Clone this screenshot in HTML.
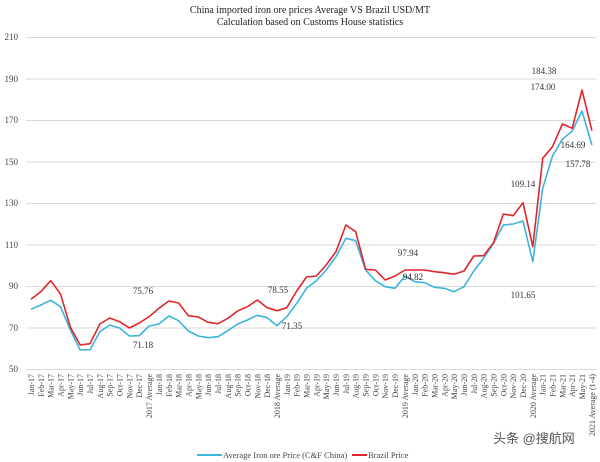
<!DOCTYPE html>
<html><head><meta charset="utf-8"><style>
html,body{margin:0;padding:0;background:#fff;}
svg{display:block;font-family:"Liberation Serif",serif;}
</style></head><body>
<svg width="600" height="462" viewBox="0 0 600 462" xmlns="http://www.w3.org/2000/svg">
<rect width="600" height="462" fill="#fff"/>
<text x="310" y="13" font-size="10" text-anchor="middle" fill="#222">China imported iron ore prices Average VS Brazil USD/MT</text>
<text x="310" y="25" font-size="10" text-anchor="middle" fill="#222">Calculation based on Customs House statistics</text>
<g stroke="#d9d9d9" stroke-width="1">
<line x1="26" x2="596" y1="37.5" y2="37.5"/><line x1="26" x2="596" y1="79" y2="79"/>
<line x1="26" x2="596" y1="120.5" y2="120.5"/><line x1="26" x2="596" y1="162" y2="162"/>
<line x1="26" x2="596" y1="203.5" y2="203.5"/><line x1="26" x2="596" y1="245" y2="245"/>
<line x1="26" x2="596" y1="286.5" y2="286.5"/><line x1="26" x2="596" y1="328" y2="328"/>
<line x1="26" x2="596" y1="369.5" y2="369.5"/>
</g>
<g font-size="9" fill="#444" text-anchor="end">
<text x="18" y="40">210</text><text x="18" y="82">190</text><text x="18" y="123">170</text>
<text x="18" y="165">150</text><text x="18" y="206">130</text><text x="18" y="248">110</text>
<text x="18" y="289">90</text><text x="18" y="331">70</text><text x="18" y="372">50</text>
</g>
<g font-size="8" fill="#444" text-anchor="end">
<text x="34.0" y="374" transform="rotate(-90 34.0 374)">Jan-17</text>
<text x="43.8" y="374" transform="rotate(-90 43.8 374)">Feb-17</text>
<text x="53.7" y="374" transform="rotate(-90 53.7 374)">Mar-17</text>
<text x="63.5" y="374" transform="rotate(-90 63.5 374)">Apr-17</text>
<text x="73.4" y="374" transform="rotate(-90 73.4 374)">May-17</text>
<text x="83.2" y="374" transform="rotate(-90 83.2 374)">Jun-17</text>
<text x="93.0" y="374" transform="rotate(-90 93.0 374)">Jul-17</text>
<text x="102.9" y="374" transform="rotate(-90 102.9 374)">Aug-17</text>
<text x="112.7" y="374" transform="rotate(-90 112.7 374)">Sep-17</text>
<text x="122.6" y="374" transform="rotate(-90 122.6 374)">Oct-17</text>
<text x="132.4" y="374" transform="rotate(-90 132.4 374)">Nov-17</text>
<text x="142.2" y="374" transform="rotate(-90 142.2 374)">Dec-17</text>
<text x="152.1" y="374" transform="rotate(-90 152.1 374)">2017 Average</text>
<text x="161.9" y="374" transform="rotate(-90 161.9 374)">Jan-18</text>
<text x="171.8" y="374" transform="rotate(-90 171.8 374)">Feb-18</text>
<text x="181.6" y="374" transform="rotate(-90 181.6 374)">Mar-18</text>
<text x="191.4" y="374" transform="rotate(-90 191.4 374)">Apr-18</text>
<text x="201.3" y="374" transform="rotate(-90 201.3 374)">May-18</text>
<text x="211.1" y="374" transform="rotate(-90 211.1 374)">Jun-18</text>
<text x="221.0" y="374" transform="rotate(-90 221.0 374)">Jul-18</text>
<text x="230.8" y="374" transform="rotate(-90 230.8 374)">Aug-18</text>
<text x="240.6" y="374" transform="rotate(-90 240.6 374)">Sep-18</text>
<text x="250.5" y="374" transform="rotate(-90 250.5 374)">Oct-18</text>
<text x="260.3" y="374" transform="rotate(-90 260.3 374)">Nov-18</text>
<text x="270.2" y="374" transform="rotate(-90 270.2 374)">Dec-18</text>
<text x="280.0" y="374" transform="rotate(-90 280.0 374)">2018 Average</text>
<text x="289.8" y="374" transform="rotate(-90 289.8 374)">Jan-19</text>
<text x="299.7" y="374" transform="rotate(-90 299.7 374)">Feb-19</text>
<text x="309.5" y="374" transform="rotate(-90 309.5 374)">Mar-19</text>
<text x="319.4" y="374" transform="rotate(-90 319.4 374)">Apr-19</text>
<text x="329.2" y="374" transform="rotate(-90 329.2 374)">May-19</text>
<text x="339.0" y="374" transform="rotate(-90 339.0 374)">Jun-19</text>
<text x="348.9" y="374" transform="rotate(-90 348.9 374)">Jul-19</text>
<text x="358.7" y="374" transform="rotate(-90 358.7 374)">Aug-19</text>
<text x="368.6" y="374" transform="rotate(-90 368.6 374)">Sep-19</text>
<text x="378.4" y="374" transform="rotate(-90 378.4 374)">Oct-19</text>
<text x="388.2" y="374" transform="rotate(-90 388.2 374)">Nov-19</text>
<text x="398.1" y="374" transform="rotate(-90 398.1 374)">Dec-19</text>
<text x="407.9" y="374" transform="rotate(-90 407.9 374)">2019 Average</text>
<text x="417.8" y="374" transform="rotate(-90 417.8 374)">Jan-20</text>
<text x="427.6" y="374" transform="rotate(-90 427.6 374)">Feb-20</text>
<text x="437.4" y="374" transform="rotate(-90 437.4 374)">Mar-20</text>
<text x="447.3" y="374" transform="rotate(-90 447.3 374)">Apr-20</text>
<text x="457.1" y="374" transform="rotate(-90 457.1 374)">May-20</text>
<text x="467.0" y="374" transform="rotate(-90 467.0 374)">Jun-20</text>
<text x="476.8" y="374" transform="rotate(-90 476.8 374)">Jul-20</text>
<text x="486.6" y="374" transform="rotate(-90 486.6 374)">Aug-20</text>
<text x="496.5" y="374" transform="rotate(-90 496.5 374)">Sep-20</text>
<text x="506.3" y="374" transform="rotate(-90 506.3 374)">Oct-20</text>
<text x="516.2" y="374" transform="rotate(-90 516.2 374)">Nov-20</text>
<text x="526.0" y="374" transform="rotate(-90 526.0 374)">Dec-20</text>
<text x="535.8" y="374" transform="rotate(-90 535.8 374)">2020 Average</text>
<text x="545.7" y="374" transform="rotate(-90 545.7 374)">Jan-21</text>
<text x="555.5" y="374" transform="rotate(-90 555.5 374)">Feb-21</text>
<text x="565.4" y="374" transform="rotate(-90 565.4 374)">Mar-21</text>
<text x="575.2" y="374" transform="rotate(-90 575.2 374)">Apr-21</text>
<text x="585.0" y="374" transform="rotate(-90 585.0 374)">May-21</text>
<text x="594.9" y="374" transform="rotate(-90 594.9 374)">2021 Average (1-4)</text>
</g>
<polyline fill="none" stroke="#3cb4dc" stroke-width="1.6" stroke-linejoin="round" points="31,309.3 40.8,305 50.7,300.3 60.5,306.7 70.4,330 80.2,350 90,349.7 99.9,331.7 109.7,325 119.6,328 129.4,336 139.2,335.7 149.1,326 158.9,324 168.8,316 178.6,320.7 188.4,331 198.3,336 208.1,337.7 218,336.7 227.8,330.7 237.6,324 247.5,320 257.3,315.3 267.2,317.7 277,325.7 286.8,316.7 296.7,303.3 306.5,288.3 316.4,280.7 326.2,270 336,256.7 345.9,238.3 355.7,240.7 365.6,270 375.4,280.7 385.2,286.7 395.1,288.3 404.9,276 414.8,281.7 424.6,282.7 434.4,287.3 444.3,288.3 454.1,291.7 464,286.7 473.8,271 483.6,258.3 493.5,243.3 503.3,225 513.2,224 523,221 532.8,261.7 542.7,188.3 552.5,156 562.4,139.3 572.2,131 582,111 591.9,145"/>
<polyline fill="none" stroke="#e0262b" stroke-width="1.6" stroke-linejoin="round" points="31,299.3 40.8,291.7 50.7,280.7 60.5,294 70.4,327.3 80.2,345 90,343.7 99.9,324 109.7,318 119.6,321.7 129.4,328 139.2,323 149.1,316.7 158.9,308.3 168.8,301 178.6,303 188.4,315.7 198.3,317 208.1,322.3 218,323.7 227.8,318.3 237.6,311 247.5,306.7 257.3,300 267.2,307.7 277,310.7 286.8,307.7 296.7,291 306.5,277 316.4,276 326.2,265 336,251.7 345.9,225 355.7,231.7 365.6,269.3 375.4,270 385.2,280 395.1,276 404.9,270 414.8,270 424.6,270 434.4,271.7 444.3,272.7 454.1,274.3 464,271 473.8,256 483.6,255.7 493.5,242.7 503.3,214 513.2,215.7 523,202.7 532.8,246.7 542.7,158.3 552.5,146.7 562.4,124 572.2,128.3 582,90 591.9,130.7"/>
<g font-size="9" fill="#333" text-anchor="middle">
<text x="143" y="294">75.76</text><text x="143" y="348">71.18</text>
<text x="278" y="293">78.55</text><text x="292" y="329">71.35</text>
<text x="408" y="256">97.94</text><text x="413" y="280">94.82</text>
<text x="523" y="187">109.14</text><text x="523" y="298">101.65</text>
<text x="544" y="74">184.38</text><text x="543" y="90">174.00</text>
<text x="573" y="148">164.69</text><text x="578" y="167">157.78</text>
</g>
<line x1="197" x2="222" y1="455" y2="455" stroke="#3cb4dc" stroke-width="2"/>
<text x="223" y="458" font-size="8.5" fill="#444">Average Iron ore Price (C&amp;F China)</text>
<line x1="352" x2="367" y1="455" y2="455" stroke="#e0262b" stroke-width="2"/>
<text x="368" y="458" font-size="8.5" fill="#444">Brazil Price</text>
<text x="493" y="443" font-size="13" fill="#555" font-family="'Liberation Sans','Noto Sans CJK SC',sans-serif">头条 @搜航网</text>
</svg>
</body></html>
